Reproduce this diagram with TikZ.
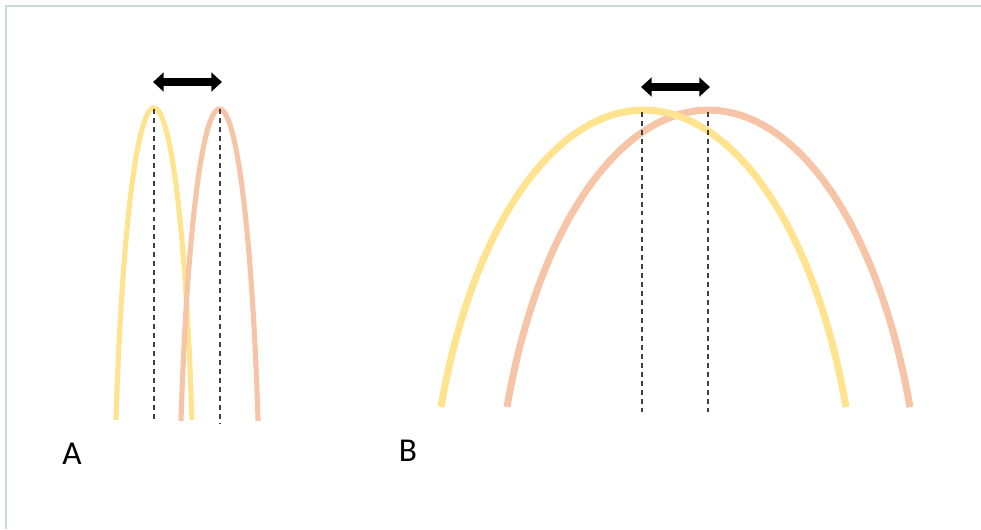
\documentclass[tikz,border=0pt]{standalone}
\usepackage{fontspec}
\newfontfamily\panelfont{Carlito}
\usepackage{xcolor}
\usetikzlibrary{arrows.meta,positioning,calc}

\definecolor{archyellow}{HTML}{FFE38E}
\definecolor{archorange}{HTML}{F6C4A6}
\definecolor{framegreen}{HTML}{C6DDD0}

\tikzset{
	narrow/.style={line width=2.9pt},
	wide/.style={line width=4pt},
	guide/.style={line width=0.8pt,black!75,dash pattern=on 2.8pt off 2.3pt},
	shiftarrow/.style={line width=4.2pt,{Triangle[length=6pt,width=10.5pt]}-{Triangle[length=6pt,width=10.5pt]}},
	panel/.style={font=\panelfont\fontsize{19}{22}\selectfont}
}

\begin{document}
\begin{tikzpicture}[x=0.02cm,y=0.02cm]
	\useasboundingbox (0,0) rectangle (981,-529);
	\draw[framegreen,line width=1.1pt] (6,-529)--(6,-6)--(981,-6);
	
	% panel A: narrow arches
	\coordinate (A-yfoot) at (116,-420);
	\coordinate (A-ofoot) at (181,-421);
	\coordinate (A-ytop) at (154,-109);
	\coordinate (A-otop) at (220,-109);
	\coordinate (A-ybase) at (154,-422);
	\coordinate (A-obase) at (220,-423);
	\draw[narrow,archyellow] (A-yfoot) arc[start angle=160,end angle=20,x radius=40.4,y radius=474];
	\draw[narrow,archorange] (A-ofoot) arc[start angle=160,end angle=20,x radius=41,y radius=474];
	\draw[guide] (A-ytop)--(A-ybase);
	\draw[guide] (A-otop)--(A-obase);
	
	% panel B: wide arches
	\coordinate (B-yfoot) at (441,-407);
	\coordinate (B-ofoot) at (507,-407);
	\coordinate (B-ytop) at (642,-112);
	\coordinate (B-otop) at (708,-112);
	\coordinate (B-ybase) at (642,-412);
	\coordinate (B-obase) at (708,-412);
	\draw[wide,archorange] (B-ofoot) arc[start angle=160,end angle=20,x radius=214.4,y radius=451];
	\draw[wide,archyellow] (B-yfoot) arc[start angle=160,end angle=20,x radius=215.5,y radius=451];
	\draw[guide] (B-ytop)--(B-ybase);
	\draw[guide] (B-otop)--(B-obase);
	
	% arrows for the shift
	\coordinate (A-al) at (153,-82);
	\coordinate (A-ar) at (222,-82);
	\coordinate (B-al) at (641,-87);
	\coordinate (B-ar) at (710,-87);
	\draw[shiftarrow] (A-al)--(A-ar);
	\draw[shiftarrow] (B-al)--(B-ar);
	
	\node[panel] (labA) at (72,-454) {A};
	\node[panel] (labB) at (408,-451) {B};
\end{tikzpicture}
\end{document}
